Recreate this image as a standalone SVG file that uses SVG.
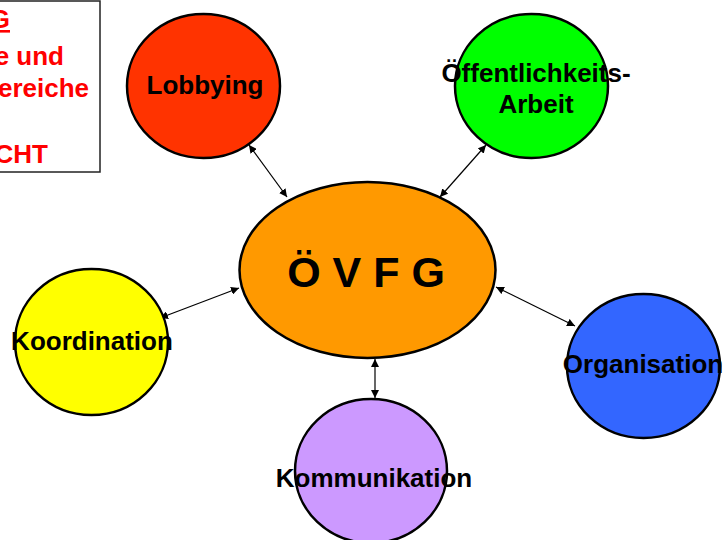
<svg xmlns="http://www.w3.org/2000/svg" width="725" height="540" viewBox="0 0 725 540">
<style>
.n{stroke:#000;stroke-width:2.5}
.t{font-family:"Liberation Sans",Arial,sans-serif;font-weight:bold;font-size:26px;fill:#000;text-anchor:middle}
.r{font-family:"Liberation Sans",Arial,sans-serif;font-weight:bold;font-size:26px;fill:#FF0000;text-anchor:end}
.c{stroke:#000;stroke-width:1.2;fill:none;marker-start:url(#a);marker-end:url(#a)}
</style>
<defs>
<marker id="a" viewBox="0 0 10 10" refX="10" refY="5" markerWidth="8" markerHeight="8" markerUnits="userSpaceOnUse" orient="auto-start-reverse">
<path d="M0,0 L10,5 L0,10 z" fill="#000"/>
</marker>
</defs>
<rect width="725" height="540" fill="#fff"/>
<g id="note">
<rect x="-3" y="1" width="103" height="171" fill="#fff" stroke="#222" stroke-width="1.5"/>
<text class="r" x="10" y="28" text-decoration="underline">G</text>
<text class="r" x="64" y="65">e und</text>
<text class="r" x="89" y="97">ereiche</text>
<text class="r" x="48" y="163">CHT</text>
</g>
<g id="connectors">
<line class="c" x1="249" y1="145" x2="287" y2="197"/>
<line class="c" x1="486" y1="145" x2="440" y2="197"/>
<line class="c" x1="160" y1="318" x2="239" y2="288"/>
<line class="c" x1="496" y1="287" x2="575" y2="326"/>
<line class="c" x1="375" y1="359" x2="375" y2="398"/>
</g>
<g id="ovfg">
<ellipse class="n" cx="367.5" cy="270" rx="128" ry="88" fill="#FF9900"/>
<text class="t" x="366" y="287" style="font-size:43px">Ö V F G</text>
</g>
<g id="lobbying">
<ellipse class="n" cx="203.5" cy="86" rx="76.5" ry="72" fill="#FF3300"/>
<text class="t" x="205" y="94">Lobbying</text>
</g>
<g id="oeffentlichkeitsarbeit">
<ellipse class="n" cx="531.5" cy="86" rx="76.5" ry="72" fill="#00FF00"/>
<text class="t" x="536" y="82">Öffentlichkeits-</text>
<text class="t" x="536" y="113">Arbeit</text>
</g>
<g id="koordination">
<ellipse class="n" cx="91.5" cy="342" rx="76.5" ry="73" fill="#FFFF00"/>
<text class="t" x="92" y="350">Koordination</text>
</g>
<g id="organisation">
<ellipse class="n" cx="643.5" cy="366" rx="76.5" ry="72" fill="#3366FF"/>
<text class="t" x="643" y="373">Organisation</text>
</g>
<g id="kommunikation">
<ellipse class="n" cx="371" cy="471" rx="76" ry="72" fill="#CC99FF"/>
<text class="t" x="374" y="487">Kommunikation</text>
</g>
</svg>
